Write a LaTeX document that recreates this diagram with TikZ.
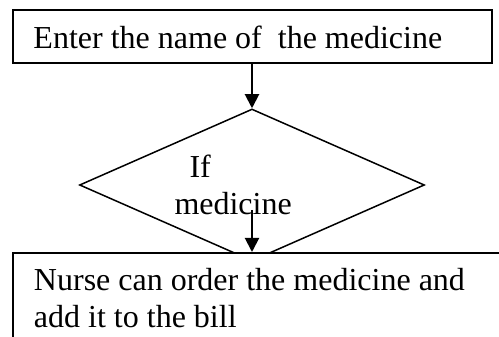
\documentclass[tikz,border=0pt]{standalone}
\usepackage{fontspec}
\setmainfont{Liberation Serif}
\usetikzlibrary{positioning,shapes,arrows.meta}

\begin{document}
\begin{tikzpicture}[x=1pt,y=1pt]%[scale=2.5]
\useasboundingbox (0,0) rectangle (499,337);
\clip (0,0) rectangle (499,337);
\tikzstyle{every node}=[font=\fontsize{32pt}{37pt}\selectfont, execute at begin node={\spaceskip=0pt\xspaceskip=0pt\relax}];
\tikzstyle{box}=[draw, line width=2pt, shape=rectangle, align=left, inner xsep=21pt];
\tikzstyle{decide}=[draw, line width=1.5pt, shape=diamond, aspect=2.27, minimum width=345pt, minimum height=152pt, inner sep=0pt, text width=155pt, align=left];
\tikzstyle{flow}=[line width=2pt, -{Triangle[width=14pt,length=14pt]}];

\draw node[box, text width=437pt, minimum height=53pt] (enter) at (252,300) {Enter the name of\ \ the medicine};
\draw node[decide] (check) at (252,152) {\hspace*{15pt}If\\medicine};
\draw node[box, fill=white, anchor=north west, text width=480pt, inner ysep=15pt] (nurse) at (12,85) {Nurse can order the medicine and\\add it to the bill};
\coordinate (c1) at ([yshift=-25pt]check.center);
\draw[flow] (enter) -- (check);
\draw[flow] (c1) -- (c1 |- nurse.north);
\end{tikzpicture}
\end{document}
